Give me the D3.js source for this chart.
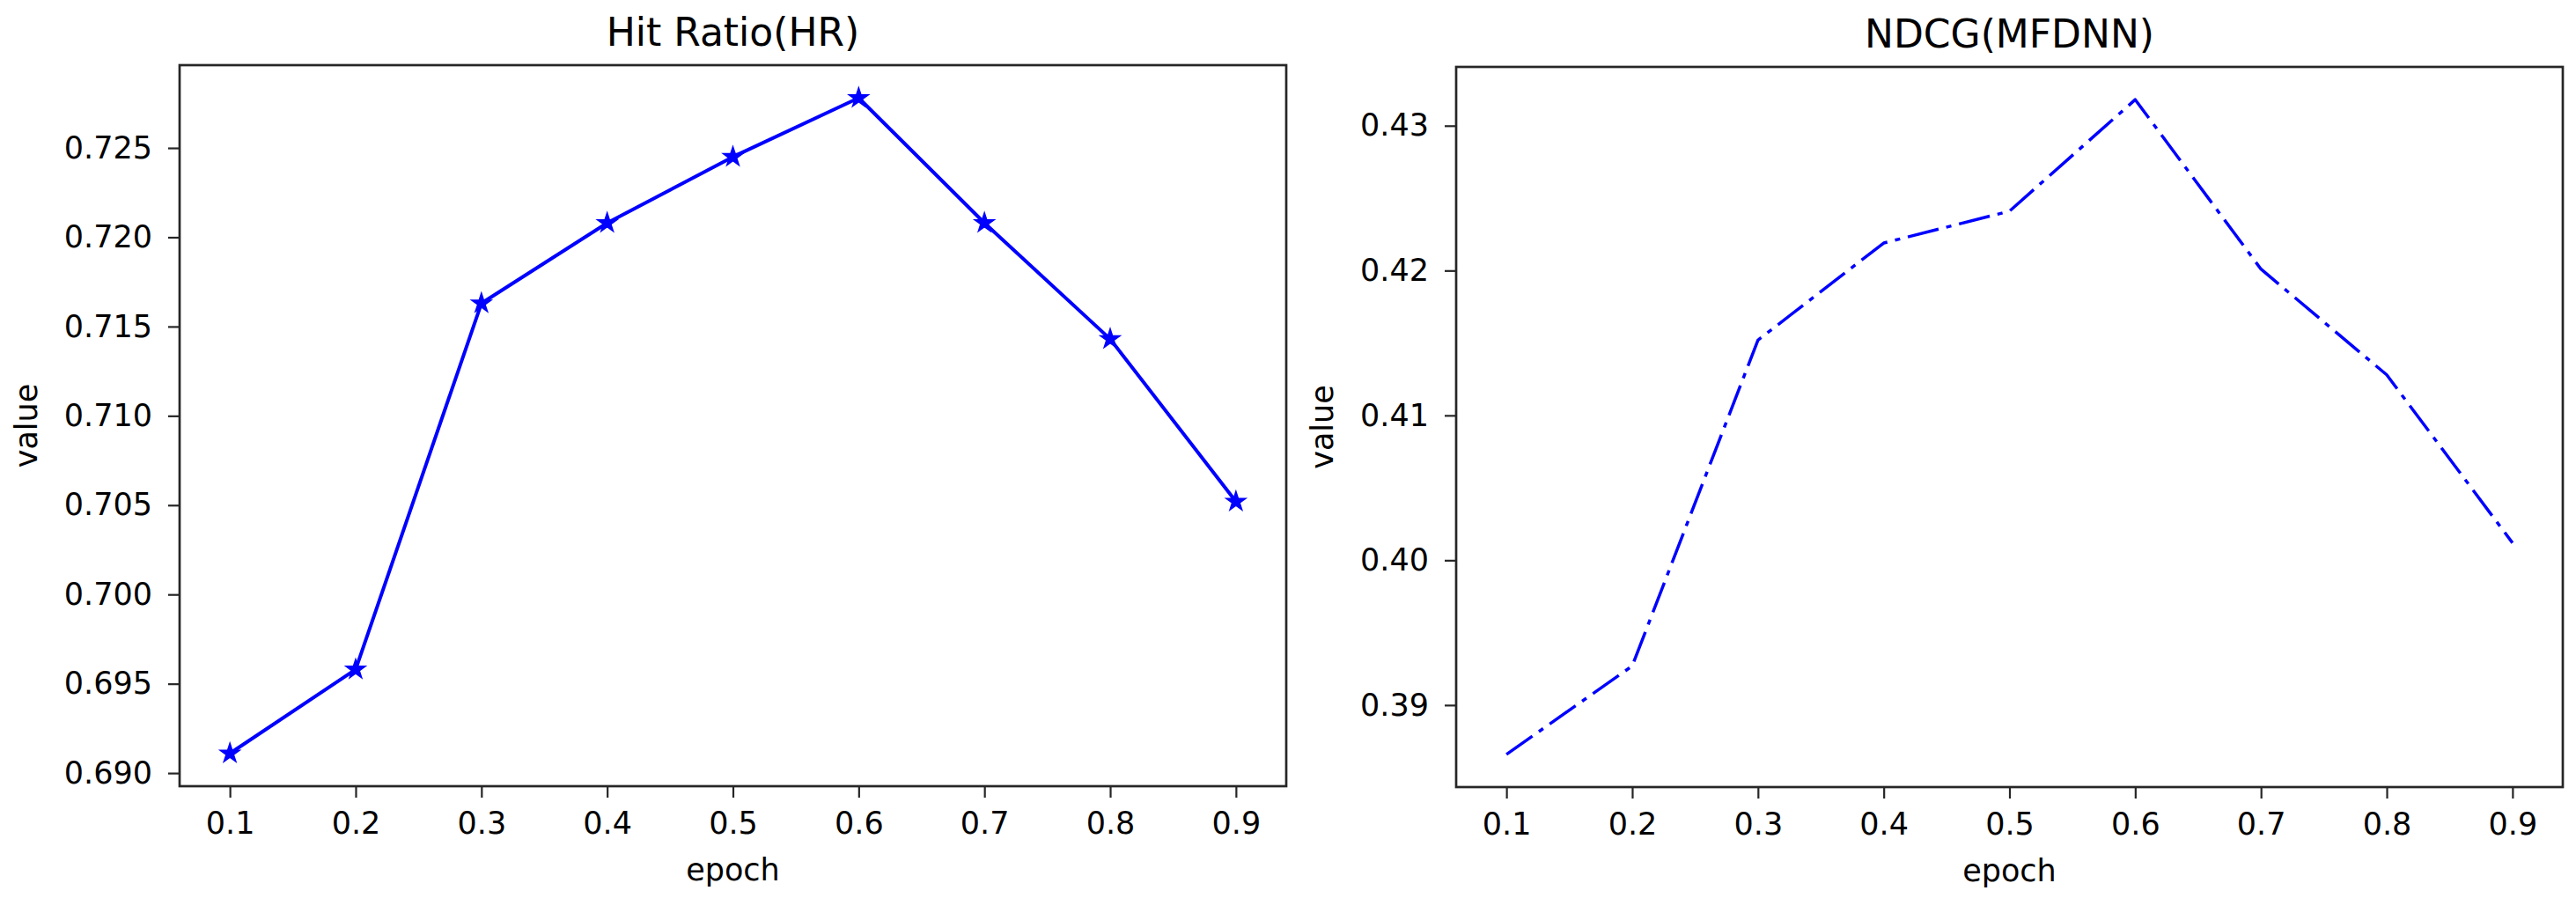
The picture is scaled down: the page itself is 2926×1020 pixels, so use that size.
<!DOCTYPE html>
<html>
<head>
<meta charset="utf-8">
<script src="https://cdn.jsdelivr.net/npm/d3@7"></script>
<style>
  body { margin: 0; background: #fff; }
  svg text { font-family: "DejaVu Sans", sans-serif; fill: #000; }
  .axis text { font-size: 35px; }
  .axis line { stroke: #262626; stroke-width: 2.2; }
  .frame { fill: none; stroke: #262626; stroke-width: 2.7; }
  .chart-title { font-size: 44px; }
  .axis-title { font-size: 35px; }
</style>
</head>
<body>
<svg id="chart"></svg>
<script>
// values
const epochs = [0.1, 0.2, 0.3, 0.4, 0.5, 0.6, 0.7, 0.8, 0.9];
const hitRatio = [0.6911, 0.6958, 0.7163, 0.7208, 0.7245, 0.7278, 0.7208, 0.7143, 0.7052];
const ndcg = [0.3866, 0.3927, 0.4152, 0.4219, 0.4241, 0.4318, 0.4201, 0.4128, 0.4012];

const epochTicks = [0.1, 0.2, 0.3, 0.4, 0.5, 0.6, 0.7, 0.8, 0.9];
const hrTicks = [0.690, 0.695, 0.700, 0.705, 0.710, 0.715, 0.720, 0.725];
const ndcgTicks = [0.39, 0.40, 0.41, 0.42, 0.43];

class LineChart {

  constructor(_config, _x, _y) {
    this.config = {
      svg: _config.svg,
      left: _config.left,
      top: _config.top,
      width: _config.width || 1257,
      height: _config.height || 819,
      title: _config.title,
      yTicks: _config.yTicks,
      yFormat: _config.yFormat,
      dash: _config.dash || null,
      lineWidth: _config.lineWidth || 4,
      markers: _config.markers || false
    }
    this.data = _x.map((d, i) => ({x: d, y: _y[i]}));
    this.initVis();
  }

  initVis() {
    let vis = this;
    const c = vis.config;

    vis.xScale = d3.scaleLinear().range([0, c.width]);
    vis.yScale = d3.scaleLinear().range([c.height, 0]);

    vis.xAxis = d3.axisBottom(vis.xScale)
        .tickValues(epochTicks)
        .tickSize(13)
        .tickSizeOuter(0)
        .tickPadding(16)
        .tickFormat(d3.format('.1f'));

    vis.yAxis = d3.axisLeft(vis.yScale)
        .tickValues(c.yTicks)
        .tickSize(13)
        .tickSizeOuter(0)
        .tickPadding(18)
        .tickFormat(d3.format(c.yFormat));

    vis.chart = c.svg.append('g')
        .attr('transform', `translate(${c.left},${c.top})`);

    vis.xAxisG = vis.chart.append('g')
        .attr('class', 'axis x-axis')
        .attr('transform', `translate(0,${c.height})`);

    vis.yAxisG = vis.chart.append('g')
        .attr('class', 'axis y-axis');

    vis.chart.append('text')
        .attr('class', 'chart-title')
        .attr('x', c.width / 2)
        .attr('y', -22)
        .style('text-anchor', 'middle')
        .text(c.title);

    vis.chart.append('text')
        .attr('class', 'axis-title')
        .attr('x', c.width / 2)
        .attr('y', c.height + 107)
        .style('text-anchor', 'middle')
        .text('epoch');
  }

  updateVis() {
    let vis = this;

    // matplotlib style 5% margins around the data
    const xExt = d3.extent(vis.data, d => d.x);
    const yExt = d3.extent(vis.data, d => d.y);
    const xPad = (xExt[1] - xExt[0]) * 0.05;
    const yPad = (yExt[1] - yExt[0]) * 0.05;
    vis.xScale.domain([xExt[0] - xPad, xExt[1] + xPad]);
    vis.yScale.domain([yExt[0] - yPad, yExt[1] + yPad]);

    vis.renderVis();
  }

  renderVis() {
    let vis = this;
    const c = vis.config;

    vis.xAxisG.call(vis.xAxis).select('.domain').remove();
    vis.yAxisG.call(vis.yAxis).select('.domain').remove();
    vis.chart.selectAll('.axis text').attr('fill', '#000');

    vis.chart.append('rect')
        .attr('class', 'frame')
        .attr('width', c.width)
        .attr('height', c.height);

    const line = d3.line()
        .x(d => vis.xScale(d.x))
        .y(d => vis.yScale(d.y));

    vis.chart.append('path')
        .datum(vis.data)
        .attr('fill', 'none')
        .attr('stroke', '#0000ff')
        .attr('stroke-width', c.lineWidth)
        .attr('stroke-dasharray', c.dash)
        .attr('stroke-linejoin', 'round')
        .attr('d', line);

    if (c.markers) {
      vis.chart.selectAll('.point')
          .data(vis.data)
        .join('path')
          .attr('class', 'point')
          .attr('d', d3.symbol(d3.symbolStar, 150))
          .attr('transform', d => `translate(${vis.xScale(d.x)},${vis.yScale(d.y)})`)
          .attr('fill', '#0000ff')
          .attr('stroke', '#0000ff')
          .attr('stroke-width', 1.5);
    }

    // y label sits left of the tick labels
    const bb = vis.yAxisG.node().getBBox();
    vis.chart.append('text')
        .attr('class', 'axis-title')
        .attr('transform', `translate(${bb.x - 31},${c.height / 2}) rotate(-90)`)
        .style('text-anchor', 'middle')
        .text('value');
  }
}

const svg = d3.select('#chart')
    .attr('width', 2926)
    .attr('height', 1020);

svg.append('rect').attr('width', 2926).attr('height', 1020).attr('fill', '#fff');

const hrChart = new LineChart({
  svg: svg, left: 204, top: 74, title: 'Hit Ratio(HR)',
  yTicks: hrTicks, yFormat: '.3f', markers: true, lineWidth: 4
}, epochs, hitRatio);
hrChart.updateVis();

const ndcgChart = new LineChart({
  svg: svg, left: 1654, top: 76, height: 818, title: 'NDCG(MFDNN)',
  yTicks: ndcgTicks, yFormat: '.2f', dash: '36,9,6,9', lineWidth: 3.5
}, epochs, ndcg);
ndcgChart.updateVis();
</script>
</body>
</html>
